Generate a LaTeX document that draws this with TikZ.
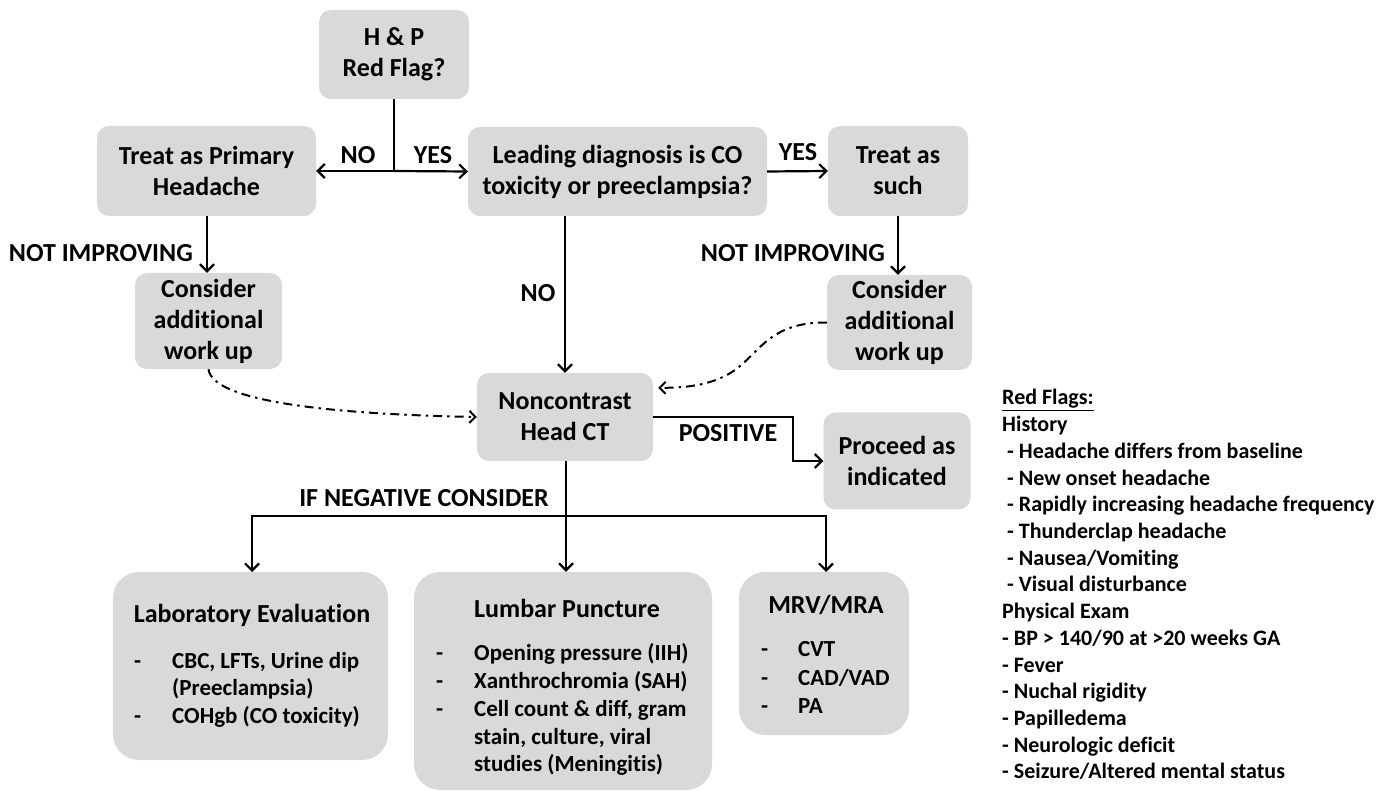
\documentclass[tikz,border=0pt]{standalone}
\usepackage{fontspec}
\setmainfont{Carlito}[Ligatures=NoCommon]
\usetikzlibrary{arrows.meta,calc}
\definecolor{boxgray}{RGB}{217,217,217}
\newcommand\fbig{\fontsize{26}{31}\selectfont\bfseries}
\newcommand\fitem{\fontsize{23}{28}\selectfont\bfseries}
\newcommand\frf{\fontsize{22}{26}\selectfont\bfseries}
\begin{document}
\begin{tikzpicture}[x=1pt,y=-1pt,
  box/.style={fill=boxgray, rounded corners=12pt, inner sep=0pt, align=center, font=\fbig},
  bigbox/.style={fill=boxgray, rounded corners=26pt, inner sep=0pt},
  ln/.style={line width=2.2pt, black},
  arr/.style={ln, -{Straight Barb[length=7pt,width=14pt]}},
  dd/.style={line width=2pt, dash pattern=on 9pt off 5pt on 2.5pt off 5pt, -{Straight Barb[length=6pt,width=12pt]}},
  lbl/.style={font=\fbig, inner sep=0pt},
  itm/.style={font=\fitem, inner sep=0pt, anchor=base west},
  ttl/.style={font=\fbig, inner sep=0pt},
  rf/.style={font=\frf, inner sep=0pt, anchor=base west}]
\path[use as bounding box, fill=white] (0,0) rectangle (1393,791);

% top boxes
\node[box, minimum width=150pt, minimum height=89pt] (hp) at (394,54.5) {H \& P\\Red Flag?};
\node[box, minimum width=219pt, minimum height=90pt] (treat) at (206.5,171) {Treat as Primary\\Headache};
\node[box, minimum width=299pt, minimum height=89pt] (lead) at (617.5,171.5) {Leading diagnosis is CO\\toxicity or preeclampsia?};
\node[box, minimum width=140pt, minimum height=90pt] (such) at (898,171) {Treat as\\such};
\node[box, minimum width=147pt, minimum height=96pt] (cons1) at (208.5,321) {Consider\\additional\\work up};
\node[box, minimum width=145pt, minimum height=95pt] (cons2) at (899.5,322.5) {Consider\\additional\\work up};
\node[box, minimum width=176pt, minimum height=88pt] (ct) at (565,417) {Noncontrast\\Head CT};
\node[box, minimum width=147pt, minimum height=97pt] (proc) at (897,461) {Proceed as\\indicated};

% bottom boxes
\node[bigbox, minimum width=275pt, minimum height=188pt] (lab) at (250.5,666) {};
\node[bigbox, minimum width=298pt, minimum height=218pt] (lp) at (563,681) {};
\node[bigbox, minimum width=170pt, minimum height=163pt] (mrv) at (824,653.5) {};

\node[ttl] (labt) at (252,615) {Laboratory Evaluation};
\node[itm] (labd1) at (134,668) {-};
\node[itm] (labi1) at (172,668) {CBC, LFTs, Urine dip};
\node[itm] (labi2) at (172,695) {(Preeclampsia)};
\node[itm] (labd2) at (134,723) {-};
\node[itm] (labi3) at (172,723) {COHgb (CO toxicity)};

\node[ttl] (lpt) at (567,608) {Lumbar Puncture};
\node[itm] (lpd1) at (436,660) {-};
\node[itm] (lpi1) at (474,660) {Opening pressure (IIH)};
\node[itm] (lpd2) at (436,688) {-};
\node[itm] (lpi2) at (474,688) {Xanthrochromia (SAH)};
\node[itm] (lpd3) at (436,716) {-};
\node[itm] (lpi3) at (474,716) {Cell count \& diff, gram};
\node[itm] (lpi4) at (474,744) {stain, culture, viral};
\node[itm] (lpi5) at (474,771) {studies (Meningitis)};

\node[ttl] (mrvt) at (826,605) {MRV/MRA};
\node[itm] (mrvd1) at (761,656) {-};
\node[itm] (mrvi1) at (798,656) {CVT};
\node[itm] (mrvd2) at (761,685) {-};
\node[itm] (mrvi2) at (798,685) {CAD/VAD};
\node[itm] (mrvd3) at (761,713) {-};
\node[itm] (mrvi3) at (798,713) {PA};

% connectors
\coordinate (j1) at (hp.south |- treat.east);
\draw[ln] (hp.south) -- (j1);
\draw[arr] (j1) -- (treat.east);
\draw[arr] (j1) -- (lead.west);
\draw[arr] (lead.east) -- (such.west);
\draw[arr] (treat.south -| 207,0) -- (cons1.north -| 207,0);
\draw[arr] (such.south) -- (such.south |- cons2.north);
\draw[arr] (ct.north |- lead.south) -- (ct.north);
\draw[dd] (cons1.south) .. controls (212,400) and (320,414) .. (ct.west);
\coordinate (ctin) at ([xshift=5pt,yshift=-15pt]ct.north east);
\draw[dd] (cons2.west) .. controls (770,322) and (760,352) .. (735,370) .. controls (715,384) and (690,388) .. (ctin);
\coordinate (pk) at (793,417);
\draw[arr] (ct.east) -- (pk) -- (pk |- proc.west) -- (proc.west);
\coordinate (sp) at (566,516);
\draw[ln] (ct.south -| sp) -- (sp);
\draw[arr] (sp) -- (sp |- lp.north);
\draw[arr] (sp) -| (252,572);
\draw[arr] (sp) -| (826,572);

% labels
\node[lbl] (lno) at (358,155) {NO};
\node[lbl] (lyes) at (433,155) {YES};
\node[lbl] (lyes2) at (798,152) {YES};
\node[lbl, anchor=east] (lni1) at (193,253) {NOT IMPROVING};
\node[lbl, anchor=east] (lni2) at (885,253) {NOT IMPROVING};
\node[lbl] (lno2) at (538,293) {NO};
\node[lbl] (lpos) at (728,433) {POSITIVE};
\node[lbl] (lneg) at (424,498) {IF NEGATIVE CONSIDER};

% red flags
\foreach \t [count=\i] in {{\underline{Red Flags:}},{History},{\hspace{5pt}- Headache differs from baseline},{\hspace{5pt}- New onset headache},{\hspace{5pt}- Rapidly increasing headache frequency},{\hspace{5pt}- Thunderclap headache},{\hspace{5pt}- Nausea/Vomiting},{\hspace{5pt}- Visual disturbance},{Physical Exam},{- BP > 140/90 at >20 weeks GA},{- Fever},{- Nuchal rigidity},{- Papilledema},{- Neurologic deficit},{- Seizure/Altered mental status}}
  \node[rf] (rf\i) at (1002,{405+26.7*(\i-1)}) {\t};
\end{tikzpicture}
\end{document}
